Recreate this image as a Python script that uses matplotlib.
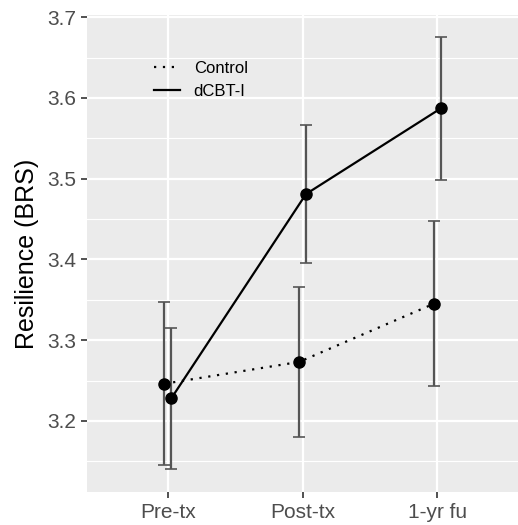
import numpy as np
import matplotlib
matplotlib.use("Agg")
import matplotlib.pyplot as plt
from matplotlib.ticker import MultipleLocator
from matplotlib.lines import Line2D

plt.rcParams["font.family"] = ["Liberation Sans", "DejaVu Sans"]

timepoints = ["Pre-tx", "Post-tx", "1-yr fu"]
control_mean = [3.246, 3.273, 3.345]
control_low = [3.145, 3.180, 3.243]
control_high = [3.347, 3.366, 3.448]
dcbt_mean = [3.228, 3.481, 3.587]
dcbt_low = [3.140, 3.395, 3.499]
dcbt_high = [3.315, 3.567, 3.676]

fig = plt.figure(figsize=(5.18, 5.25), dpi=100)
ax = fig.add_axes([0.168, 0.063, 0.832, 0.908])
ax.set_facecolor("#ebebeb")

x = np.arange(len(timepoints))
dodge = 0.026


def draw_group(xs, mean, low, high, ls):
    mean = np.array(mean)
    err = [mean - np.array(low), np.array(high) - mean]
    ax.errorbar(xs, mean, yerr=err, fmt="none", ecolor="#555555", elinewidth=1.6,
                capsize=4, capthick=1.2, zorder=3)
    ax.plot(xs, mean, color="black", linestyle=ls, linewidth=1.6, zorder=4)
    ax.plot(xs, mean, "o", color="black", markersize=8, zorder=5)


draw_group(x - dodge, control_mean, control_low, control_high, (0, (1, 3)))
draw_group(x + dodge, dcbt_mean, dcbt_low, dcbt_high, "-")

ax.set_xlim(-0.6, 2.6)
ax.set_ylim(3.112, 3.7025)
ax.set_xticks(x)
ax.set_xticklabels(timepoints)
ax.yaxis.set_major_locator(MultipleLocator(0.1))
ax.yaxis.set_minor_locator(MultipleLocator(0.05))
ax.yaxis.set_major_formatter(matplotlib.ticker.FormatStrFormatter("%.1f"))

ax.grid(which="major", color="white", linewidth=1.6, zorder=0)
ax.grid(which="minor", axis="y", color="white", linewidth=0.8, zorder=0)
ax.set_axisbelow(True)
for s in ax.spines.values():
    s.set_visible(False)
ax.tick_params(which="major", length=4, width=1.2, color="#333333",
               labelsize=15, labelcolor="#4d4d4d", pad=4)
ax.tick_params(which="minor", length=0)

ax.set_ylabel("Resilience (BRS)", fontsize=18, color="black", labelpad=6)

handles = [Line2D([], [], color="black", linestyle=(0, (1, 3)), linewidth=1.6),
           Line2D([], [], color="black", linestyle="-", linewidth=1.6)]
ax.legend(handles, ["Control", "dCBT-I"], loc="upper left",
          bbox_to_anchor=(0.12, 0.935), frameon=False, fontsize=12,
          handlelength=1.6, labelspacing=0.45)

fig.savefig("out.png", dpi=100)
